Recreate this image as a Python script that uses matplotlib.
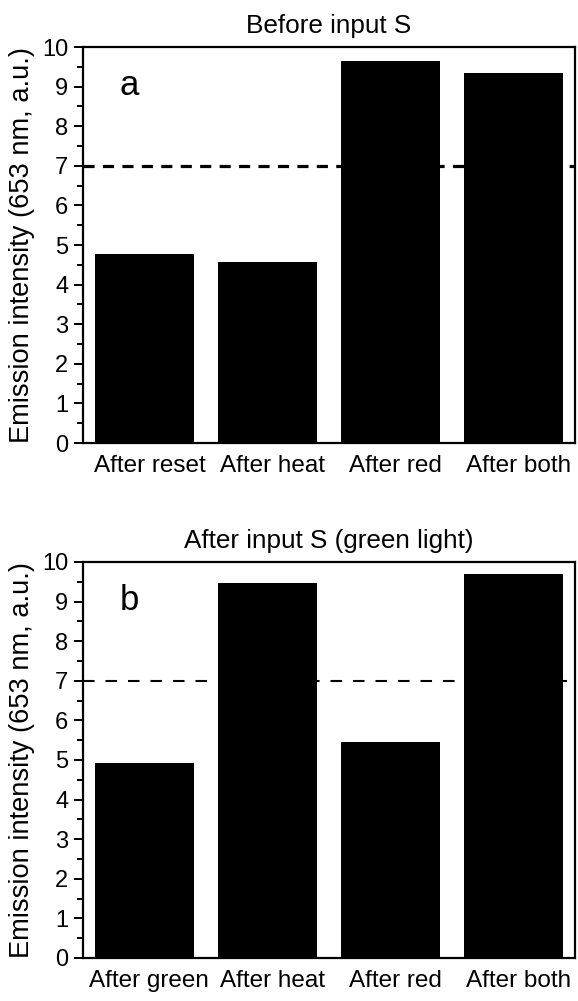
import matplotlib
matplotlib.use("Agg")
import matplotlib.pyplot as plt
from matplotlib.ticker import MultipleLocator

plt.rcParams['font.family'] = ['Liberation Sans', 'DejaVu Sans']
plt.rcParams['lines.scale_dashes'] = False

labels_a = ["After reset", "After heat", "After red", "After both"]
values_a = [4.78, 4.57, 9.65, 9.35]
labels_b = ["After green", "After heat", "After red", "After both"]
values_b = [4.93, 9.48, 5.45, 9.70]
threshold = 7
titles = ["Before input S", "After input S (green light)"]
panel_letters = ["a", "b"]
ylabel = "Emission intensity (653 nm, a.u.)"

fig = plt.figure(figsize=(5.78, 10.01), dpi=100)
ax_a = fig.add_axes([83/578, 1-443/1001, 492/578, 396/1001])
ax_b = fig.add_axes([83/578, 1-958/1001, 492/578, 396/1001])

specs = [
    (ax_a, labels_a, values_a, titles[0], panel_letters[0], 2.3, (8, 6)),
    (ax_b, labels_b, values_b, titles[1], panel_letters[1], 1.5, (8.3, 7.9)),
]

label_offset = 0.04  # tick labels sit slightly right of bar centres

for ax, labs, vals, title, letter, dlw, dash in specs:
    x = list(range(len(labs)))
    ax.axhline(threshold, color='black', lw=dlw, dashes=dash, zorder=1)
    ax.bar(x, vals, width=0.8, color='black', zorder=2)
    ax.set_xlim(-0.5, 3.5)
    ax.set_ylim(0, 10)
    ax.set_xticks([i + label_offset for i in x])
    ax.set_xticklabels(labs)
    ax.yaxis.set_major_locator(MultipleLocator(1))
    ax.yaxis.set_minor_locator(MultipleLocator(0.5))
    ax.tick_params(axis='y', which='major', direction='out', length=6.5, width=1.4,
                   labelsize=17, pad=4)
    ax.tick_params(axis='y', which='minor', direction='out', length=4.3, width=1.4)
    ax.tick_params(axis='x', which='both', length=0, labelsize=17.5, pad=8.5)
    for sp in ax.spines.values():
        sp.set_linewidth(1.6)
    ax.set_title(title, fontsize=18.8, pad=10)
    ax.set_ylabel(ylabel, fontsize=19.6, labelpad=5)
    ax.text(0.075, 0.88, letter, transform=ax.transAxes, fontsize=25,
            ha='left', va='baseline')

fig.savefig("out.png", dpi=100)
